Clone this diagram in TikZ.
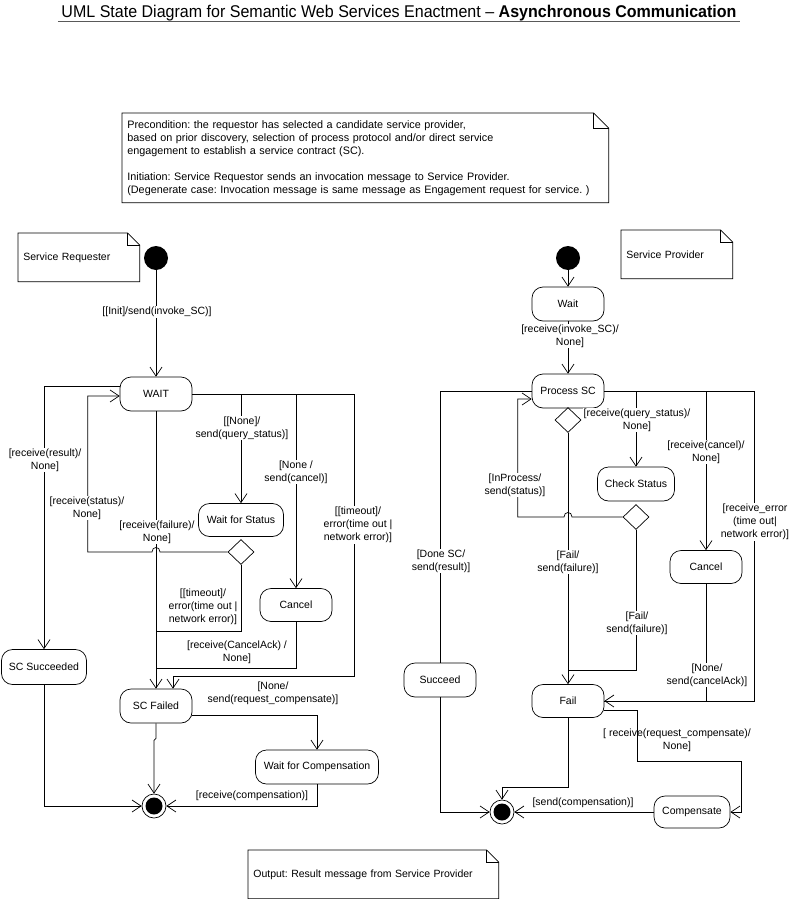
\documentclass[tikz,border=0pt]{standalone}
\usepackage{fontspec}
\setmainfont{Liberation Sans}
\usetikzlibrary{arrows.meta, shapes.geometric}
\frenchspacing

% note with folded corner, drawn round a node
\newcommand{\umlnote}[2]{%
  \draw (#1.north west) -- ([xshift=-#2]#1.north east) -- ([yshift=-#2]#1.north east)
        -- (#1.south east) -- (#1.south west) -- cycle;
  \draw ([xshift=-#2]#1.north east) |- ([yshift=-#2]#1.north east);}

\begin{document}
\begin{tikzpicture}[
    x=1pt, y=-1pt,
    line width=0.7pt,
    every node/.style={font=\fontsize{10.5}{13}\selectfont},
    arrow/.style={-{Straight Barb[length=9pt,width=12pt]}},
    state/.style={draw, rounded corners=11pt, minimum width=72pt, minimum height=34pt, inner sep=2pt},
    choice/.style={draw, diamond, minimum width=26pt, minimum height=25pt, inner sep=0pt},
    initial/.style={circle, fill=black, minimum size=24pt, inner sep=0pt},
    final/.style={circle, draw, minimum size=24pt, inner sep=0pt,
        path picture={\fill (path picture bounding box.center) circle (8.5pt);}},
    notebox/.style={anchor=north west, align=left, inner xsep=5pt, inner ysep=0pt},
    lbl/.style={align=center, fill=white, inner sep=1pt},
    lbln/.style={align=center, inner sep=1pt}
]
    \useasboundingbox (0,0) rectangle (795,899);

    % title
    \node[anchor=base] (title) at (399,18)
        {\resizebox{675pt}{\height}{\fontsize{17}{20}\selectfont UML State Diagram for Semantic Web Services Enactment -- \textbf{Asynchronous Communication}}};
    \draw[black!65, line width=1.4pt] ([yshift=-3.5pt]title.base west) -- ([yshift=-3.5pt]title.base east);

    % notes
    \node[notebox, text width=476pt, minimum height=89pt, font=\fontsize{10.8}{13}\selectfont] (prenote) at (122,113)
        {Precondition: the requestor has selected a candidate service provider,\\
         based on prior discovery, selection of process protocol and/or direct service\\
         engagement to establish a service contract (SC).\\[13pt]
         Initiation: Service Requestor sends an invocation message to Service Provider.\\
         (Degenerate case: Invocation message is same message as Engagement request for service. )};
    \umlnote{prenote}{15pt}
    \node[notebox, text width=111pt, minimum height=48pt] (reqnote) at (18,233) {Service Requester};
    \umlnote{reqnote}{12pt}
    \node[notebox, text width=101pt, minimum height=48pt] (provnote) at (621,230) {Service Provider};
    \umlnote{provnote}{12pt}
    \node[notebox, text width=240pt, minimum height=48pt] (outnote) at (248,850) {Output: Result message from Service Provider};
    \umlnote{outnote}{12pt}

    % service requester
    \node[initial] (startL) at (156,258) {};
    \node[state] (wait) at (156,394) {WAIT};
    \node[state, minimum width=85pt, minimum height=33pt] (waitstat) at (241,520) {Wait for Status};
    \node[choice] (chkL) at (241,552) {};
    \node[state, minimum height=33pt] (cancelL) at (296,605) {Cancel};
    \node[state, minimum width=85pt, minimum height=35pt] (scok) at (44,667) {SC Succeeded};
    \node[state] (scfail) at (156,706) {SC Failed};
    \node[state, minimum width=123pt] (waitcomp) at (317,767) {Wait for Compensation};
    \node[final] (endL) at (154,806) {};
    \coordinate (toutL) at (354,676);

    \draw[arrow] (startL) -- (wait) node[lbl] at (157,312) {[[Init]/send(invoke\_SC)]};
    \draw[arrow] (wait.east) -| (toutL) -| ([xshift=17pt]scfail.north)
        node[lbl] at (358,525) {[[timeout]/\\error(time out |\\network error)]};
    \draw[arrow] (waitstat.north |- wait.east) -- (waitstat.north)
        node[lbl] at (242,428) {[[None]/\\send(query\_status)]};
    \draw[arrow] (cancelL.north |- wait.east) -- (cancelL.north)
        node[lbl] at (296,472) {[None /\\send(cancel)]};
    \draw[arrow] ([yshift=8pt]wait.west) -| (scok.north)
        node[lbl] at (45,460) {[receive(result)/\\None]};
    \draw[arrow] (chkL.west) -- (160,552) .. controls (160,546) and (152,546) .. (152,552)
        -| ([xshift=-32pt,yshift=-2pt]wait.west) -- ([yshift=-2pt]wait.west)
        node[lbl] at (87,508) {[receive(status)/\\None]};
    \draw[arrow] (wait.south) -- (scfail.north)
        node[lbl] at (157,532) {[receive(failure)/\\None]};
    \draw (chkL.south) |- (156,631)
        node[lbln] at (203,607) {[[timeout]/\\error(time out |\\network error)]};
    \draw (cancelL.south) |- (156,668)
        node[lbln] at (237,652) {[receive(CancelAck) /\\None]};
    \draw[arrow] ([yshift=-9pt]scfail.east) -| (waitcomp.north)
        node[lbln] at (273,693) {[None/\\send(request\_compensate)]};
    \draw[arrow] (scfail.south) -- ++(0,15) -- ++(-2,2) -- (endL.north);
    \draw[arrow] (scok.south) |- (endL.west);
    \draw[arrow] (waitcomp.south) |- (endL.east)
        node[lbln] at (252,796) {[receive(compensation)]};

    % service provider
    \node[initial] (startR) at (568,258) {};
    \node[state] (waitR) at (568,304) {Wait};
    \node[state] (proc) at (568,391) {Process SC};
    \node[choice] (chkR1) at (568,420) {};
    \node[state, minimum width=77pt] (check) at (636,484) {Check Status};
    \node[choice] (chkR2) at (636,517) {};
    \node[state, minimum height=33pt] (cancelR) at (706,567) {Cancel};
    \node[state] (succ) at (440,680) {Succeed};
    \node[state, minimum height=33pt] (fail) at (568,701) {Fail};
    \node[state, minimum width=76pt, minimum height=32pt] (comp) at (692,812) {Compensate};
    \node[final] (endR) at (502,812) {};

    \draw[arrow] (startR) -- (waitR);
    \draw[arrow] (waitR) -- (proc) node[lbl] at (570,336) {[receive(invoke\_SC)/\\None]};
    \draw[arrow] (proc.east) -| ([xshift=150pt]fail.east) -- (fail.east)
        node[lbl] at (755,522) {[receive\_error\\(time out|\\network error)]};
    \draw[arrow] (check.north |- proc.east) -- (check.north)
        node[lbl] at (637,420) {[receive(query\_status)/\\None]};
    \draw[arrow] (cancelR.north |- proc.east) -- (cancelR.north)
        node[lbl] at (706,452) {[receive(cancel)/\\None]};
    \draw (cancelR.south) |- (fail.east)
        node[lbl] at (707,675) {[None/\\send(cancelAck)]};
    \draw (proc.west) -| (succ.north)
        node[lbl] at (441,561) {[Done SC/\\send(result)]};
    \draw[arrow] (chkR2.west) -- (572,517) .. controls (572,511) and (564,511) .. (564,517)
        -| ([xshift=-14pt,yshift=-8pt]proc.west) -- ([yshift=-8pt]proc.west)
        node[lbl] at (515,485) {[InProcess/\\send(status)]};
    \draw[arrow] (chkR1.south) -- (fail.north)
        node[lbl] at (568,562) {[Fail/\\send(failure)]};
    \draw (chkR2.south) |- (568,670)
        node[lbl] at (637,623) {[Fail/\\send(failure)]};
    \draw[arrow] ([yshift=-9pt]fail.east) -| (637,761) -| ([xshift=11pt]comp.east) -- (comp.east)
        node[lbln] at (677,740) {[ receive(request\_compensate)/\\None]};
    \draw[arrow] (comp.west) -- (endR.east)
        node[lbln] at (583,803) {[send(compensation)]};
    \draw[arrow] (fail.south) |- ([yshift=12pt]endR.north) -- (endR.north);
    \draw[arrow] (succ.south) |- (endR.west);
\end{tikzpicture}
\end{document}
